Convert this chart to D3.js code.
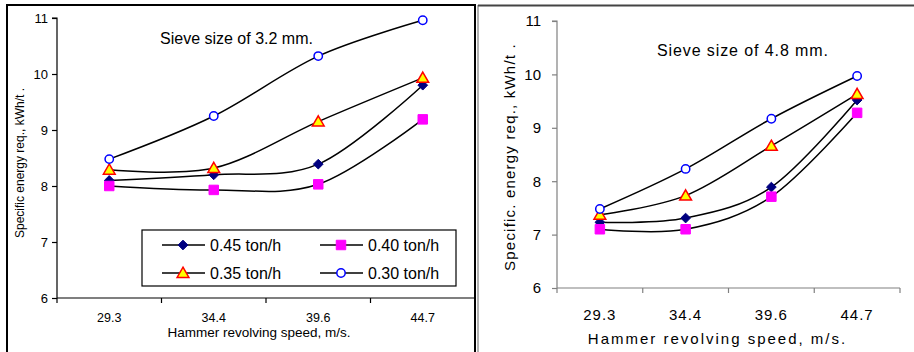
<!DOCTYPE html>
<html>
<head>
<meta charset="utf-8">
<script src="https://cdn.jsdelivr.net/npm/d3@7"></script>
<style>
  body { margin: 0; background: #fff; }
  svg { display: block; font-family: "Liberation Sans", Arial, sans-serif; }
</style>
</head>
<body>
<svg id="chart" width="914" height="352"></svg>
<script>
// categories and tick labels
const speeds = ['29.3', '34.4', '39.6', '44.7'];
const yTicks = [6, 7, 8, 9, 10, 11];

const seriesNames = ['0.45 ton/h', '0.40 ton/h', '0.35 ton/h', '0.30 ton/h'];

// sieve 3.2 mm
const s32_045 = [8.10, 8.20, 8.39, 9.80];
const s32_040 = [8.00, 7.93, 8.03, 9.19];
const s32_035 = [8.29, 8.32, 9.15, 9.93];
const s32_030 = [8.48, 9.25, 10.32, 10.96];

// sieve 4.8 mm
const s48_045 = [7.23, 7.31, 7.89, 9.52];
const s48_040 = [7.10, 7.10, 7.71, 9.28];
const s48_035 = [7.37, 7.73, 8.66, 9.63];
const s48_030 = [7.48, 8.23, 9.17, 9.97];

const markerStyle = [
  { type: d3.symbolDiamond2, size: 60, fill: '#000080', stroke: '#000080', sw: 1 },
  { type: d3.symbolSquare, size: 90, fill: '#ff00ff', stroke: '#ff00ff', sw: 1 },
  { type: d3.symbolTriangle, size: 60, fill: '#ffff00', stroke: '#ff0000', sw: 1.5 },
  { type: d3.symbolCircle, size: 55, fill: '#ffffff', stroke: '#0000ff', sw: 1.5 }
];

const svg = d3.select('#chart');

// frames
svg.append('rect').attr('x', 7).attr('y', 5).attr('width', 468).attr('height', 360)
  .attr('fill', 'none').attr('stroke', '#000').attr('stroke-width', 2);
svg.append('line').attr('x1', 478).attr('x2', 478).attr('y1', 5).attr('y2', 352)
  .attr('stroke', '#999').attr('stroke-width', 1.5);
svg.append('line').attr('x1', 478).attr('x2', 914).attr('y1', 5.5).attr('y2', 5.5)
  .attr('stroke', '#444').attr('stroke-width', 2);

function drawPanel(opt) {
  const x = d3.scaleBand().domain(speeds).range([opt.left, opt.right]);
  const y = d3.scaleLinear().domain([6, 11]).range([opt.bottom, opt.top]);
  const g = svg.append('g');

  // y axis
  g.append('g')
    .attr('transform', `translate(${opt.left},0)`)
    .call(d3.axisLeft(y).tickValues(yTicks).tickFormat(d3.format('d')).tickSize(5).tickPadding(opt.yPad))
    .call(a => a.selectAll('path,line').attr('stroke', opt.axisColor).attr('stroke-width', 1.2))
    .call(a => a.select('.domain').attr('d', `M-5,${opt.top}H0V${opt.bottom}`))
    .call(a => a.selectAll('text').attr('font-size', opt.yTickFont).attr('fill', '#000')
      .attr('font-family', 'inherit'));

  // x axis: ticks at band boundaries
  const bounds = [opt.left].concat(speeds.map(s => x(s) + x.bandwidth()));
  const xa = g.append('g').attr('transform', `translate(0,${opt.bottom})`);
  xa.append('line').attr('x1', opt.left).attr('x2', opt.right)
    .attr('stroke', opt.axisColor).attr('stroke-width', 1.2);
  xa.selectAll('.tk').data(bounds).join('line').attr('class', 'tk')
    .attr('x1', d => d).attr('x2', d => d).attr('y1', 0).attr('y2', 5)
    .attr('stroke', opt.axisColor).attr('stroke-width', 1.2);
  xa.selectAll('.lb').data(speeds).join('text').attr('class', 'lb')
    .attr('x', d => x(d) + x.bandwidth() / 2).attr('y', opt.xLabelY - opt.bottom)
    .attr('text-anchor', 'middle').attr('font-size', opt.xTickFont)
    .attr('letter-spacing', opt.tickSpacing).text(d => d);

  // titles
  g.append('text').attr('x', (opt.left + opt.right) / 2 + opt.xTitleDx).attr('y', opt.xTitleY)
    .attr('text-anchor', 'middle').attr('font-size', opt.xTitleFont)
    .attr('letter-spacing', opt.xTitleSpacing).text('Hammer revolving speed, m/s.');
  g.append('text')
    .attr('transform', `translate(${opt.yTitleX},${opt.yTitleY}) rotate(-90)`)
    .attr('text-anchor', 'middle').attr('font-size', opt.yTitleFont)
    .attr('letter-spacing', opt.yTitleSpacing).text(opt.yTitle);
  g.append('text').attr('x', opt.capX).attr('y', opt.capY)
    .attr('font-size', opt.capFont).attr('letter-spacing', opt.capSpacing).text(opt.caption);

  const line = d3.line()
    .x((d, i) => x(speeds[i]) + x.bandwidth() / 2)
    .y(d => y(d))
    .curve(d3.curveCardinal.tension(0));

  opt.series.forEach(vals => {
    g.append('path').datum(vals).attr('d', line)
      .attr('fill', 'none').attr('stroke', '#000').attr('stroke-width', 1.5);
  });
  opt.series.forEach((vals, k) => {
    const m = markerStyle[k];
    g.selectAll(null).data(vals).join('path')
      .attr('transform', (d, i) => `translate(${x(speeds[i]) + x.bandwidth() / 2},${y(d) + (k === 2 ? 1 : 0)})`)
      .attr('d', d3.symbol().type(m.type).size(m.size))
      .attr('fill', m.fill).attr('stroke', m.stroke).attr('stroke-width', m.sw);
  });
}

drawPanel({
  left: 57, right: 475, top: 18, bottom: 298,
  axisColor: '#000', yTickFont: 13, xTickFont: 12.5, tickSpacing: 0, yPad: 4,
  xLabelY: 322, xTitleY: 337, xTitleDx: -7, xTitleFont: 13.5, xTitleSpacing: 0,
  yTitleX: 24, yTitleY: 163, yTitle: 'Specific energy req., kWh/t .',
  yTitleFont: 12, yTitleSpacing: 0,
  capX: 160, capY: 44, caption: 'Sieve size of 3.2 mm.', capFont: 16, capSpacing: 0,
  series: [s32_045, s32_040, s32_035, s32_030]
});

drawPanel({
  left: 557, right: 900, top: 21, bottom: 288,
  axisColor: '#808080', yTickFont: 15, xTickFont: 15, tickSpacing: 1, yPad: 11,
  xLabelY: 320, xTitleY: 344, xTitleDx: -11, xTitleFont: 15, xTitleSpacing: 2,
  yTitleX: 515, yTitleY: 157, yTitle: 'Specific. energy req., kWh/t .',
  yTitleFont: 15, yTitleSpacing: 1.2,
  capX: 657, capY: 56, caption: 'Sieve size of 4.8 mm.', capFont: 16, capSpacing: 0.9,
  series: [s48_045, s48_040, s48_035, s48_030]
});

// legend (left panel only)
const legend = svg.append('g');
legend.append('rect').attr('x', 142).attr('y', 230).attr('width', 314).attr('height', 56)
  .attr('fill', '#fff').attr('stroke', '#000').attr('stroke-width', 1.2);
const legPos = [[162, 245], [320, 245], [162, 273], [320, 273]];
seriesNames.forEach((name, k) => {
  const [lx, ly] = legPos[k];
  const m = markerStyle[k];
  legend.append('line').attr('x1', lx).attr('x2', lx + 43).attr('y1', ly).attr('y2', ly)
    .attr('stroke', '#000').attr('stroke-width', 1.5);
  legend.append('path').attr('transform', `translate(${lx + 21},${ly + (k === 2 ? 1 : 0)})`)
    .attr('d', d3.symbol().type(m.type).size(m.size))
    .attr('fill', m.fill).attr('stroke', m.stroke).attr('stroke-width', m.sw);
  legend.append('text').attr('x', lx + 48).attr('y', ly + 6)
    .attr('font-size', 16).text(name);
});
</script>
</body>
</html>
